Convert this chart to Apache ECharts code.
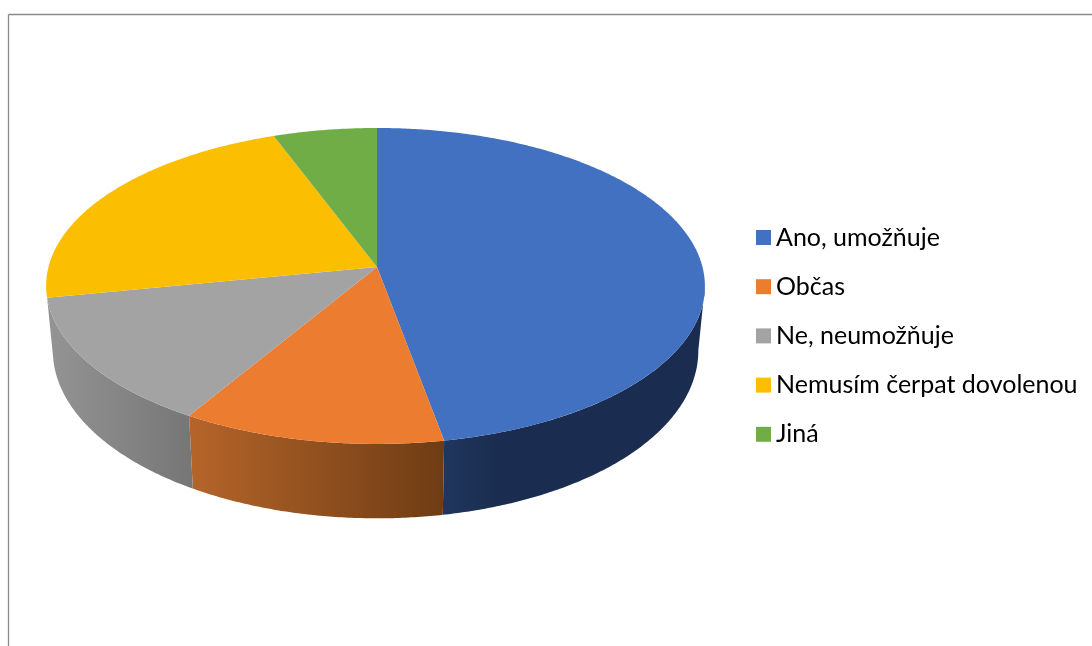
<!DOCTYPE html>
<html>
<head>
<meta charset="utf-8">
<style>html,body{margin:0;padding:0;background:#fff}#c{width:1092px;height:646px}</style>
<script src="https://cdn.jsdelivr.net/npm/echarts@6/dist/echarts.min.js"></script>
</head>
<body>
<div id="c"></div>
<script>
const categories = ['Ano, umožňuje', 'Občas', 'Ne, neumožňuje', 'Nemusím čerpat dovolenou', 'Jiná'];
const shares = [47.1, 11.5, 13.3, 22.4, 5.7];
const topColors = ['#4271C1', '#EB7C30', '#A3A3A3', '#FCBE00', '#70AD47'];
const wallStops = [
  [[0, '#21365D'], [0.22, '#1A2D50'], [1, '#1A2D50']],
  [[0, '#B5652A'], [1, '#6E3C14']],
  [[0, '#949494'], [1, '#767676']],
  null,
  null
];

// Perspective view of the round pie
const view = { cx: 377, cy: 267, rx: 327, ry: 155.7, k: -0.12, lean: 1.5, wallScale: 0.98, wallBase: 63, wallSlope: 11.4 };
const total = shares.reduce((a, b) => a + b, 0);
const silhouette = Math.acos(view.k) * 180 / Math.PI;

function rimPoint(deg) {
  const t = deg * Math.PI / 180, u = Math.sin(t), v = -Math.cos(t), d = 1 + view.k * v;
  return { dx: view.rx * u / d - view.lean * u * u, y: view.cy + view.ry * v / d, v };
}
function arc(from, to, map) {
  const n = Math.max(2, Math.ceil((to - from) * 2)), pts = [];
  for (let i = 0; i <= n; i++) pts.push(map(rimPoint(from + (to - from) * i / n)));
  return pts;
}
const topMap = p => [view.cx + p.dx, p.y];
const baseMap = p => [view.cx + p.dx * view.wallScale, p.y + view.wallBase + view.wallSlope * p.v];

function renderSlice(index) {
  return function (params, api) {
    const before = shares.slice(0, index).reduce((a, b) => a + b, 0);
    const from = before / total * 360;
    const to = from + api.value(0) / total * 360;
    const children = [];
    if (wallStops[index]) {
      const a = Math.max(from, silhouette), b = Math.min(to, 360 - silhouette);
      const upper = arc(a, b, topMap), lower = arc(a, b, baseMap).reverse();
      children.push({
        type: 'polygon', z2: 1, silent: true,
        shape: { points: upper.concat(lower) },
        style: {
          fill: new echarts.graphic.LinearGradient(0, 0, 1, 0,
            wallStops[index].map(s => ({ offset: s[0], color: s[1] })))
        }
      });
    }
    children.push({
      type: 'polygon', z2: 2, silent: true,
      shape: { points: [[view.cx, view.cy]].concat(arc(from, to, topMap)) },
      style: { fill: topColors[index] }
    });
    return { type: 'group', children };
  };
}

const chart = echarts.init(document.getElementById('c'), null, { renderer: 'canvas' });
chart.setOption({
  animation: false,
  backgroundColor: '#fff',
  legend: {
    orient: 'vertical', left: 756, top: 225, padding: 0,
    data: categories, icon: 'rect',
    itemWidth: 15, itemHeight: 15, itemGap: 24.2, selectedMode: false,
    textStyle: { fontFamily: 'Lato', fontSize: 25, lineHeight: 24, color: '#000' }
  },
  graphic: [
    { type: 'line', silent: true, shape: { x1: 8.5, y1: 14.5, x2: 1092, y2: 14.5 }, style: { stroke: '#8a8a8a', lineWidth: 1.3 } },
    { type: 'line', silent: true, shape: { x1: 8.5, y1: 14.5, x2: 8.5, y2: 646 }, style: { stroke: '#8a8a8a', lineWidth: 1.3 } }
  ],
  series: categories.map((name, i) => ({
    type: 'custom', name, coordinateSystem: 'none',
    itemStyle: { color: topColors[i] },
    data: [shares[i]],
    renderItem: renderSlice(i)
  }))
});
</script>
</body>
</html>
